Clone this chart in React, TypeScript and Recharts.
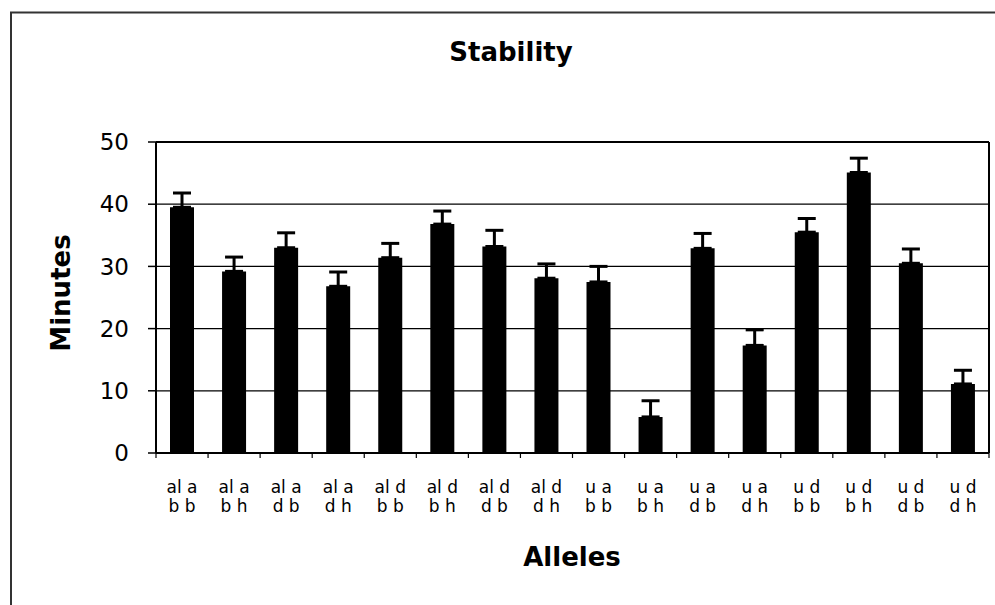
import React from 'react';
import { BarChart, Bar, XAxis, YAxis, CartesianGrid, ErrorBar, ReferenceLine } from 'recharts';

const alleleTop = ['al a', 'al a', 'al a', 'al a', 'al d', 'al d', 'al d', 'al d', 'u a', 'u a', 'u a', 'u a', 'u d', 'u d', 'u d', 'u d'];
const alleleBottom = ['b b', 'b h', 'd b', 'd h', 'b b', 'b h', 'd b', 'd h', 'b b', 'b h', 'd b', 'd h', 'b b', 'b h', 'd b', 'd h'];
const minutes = [39.5, 29.2, 33.0, 26.8, 31.4, 36.8, 33.2, 28.1, 27.5, 5.8, 32.9, 17.3, 35.5, 45.1, 30.5, 11.1];
const errors = [2.3, 2.3, 2.4, 2.3, 2.3, 2.1, 2.6, 2.3, 2.5, 2.6, 2.4, 2.5, 2.2, 2.3, 2.3, 2.2];
const yTicks = [0, 10, 20, 30, 40, 50];

const data = alleleTop.map((t, i) => ({
  name: `${t}|${alleleBottom[i]}`,
  minutes: minutes[i],
  err: [0, errors[i]],
}));

const lastName = data[data.length - 1].name;
const yMax = yTicks[yTicks.length - 1];

const AlleleTick = (props: any) => {
  const { x, y, payload, index, visibleTicksCount, width } = props;
  const half = payload && typeof payload.offset === 'number' && payload.offset > 0
    ? payload.offset
    : width / visibleTicksCount / 2;
  const [l1, l2] = String(payload.value).split('|');
  const isLast = index === visibleTicksCount - 1;
  return (
    <g>
      <line x1={x - half} x2={x - half} y1={y} y2={y + 5} stroke="#000" strokeWidth={1.2} />
      {isLast && <line x1={x + half} x2={x + half} y1={y} y2={y + 5} stroke="#000" strokeWidth={1.2} />}
      <text x={x} y={y + 40} textAnchor="middle" fontFamily="DejaVu Sans" fontSize={17} fill="#000">{l1}</text>
      <text x={x} y={y + 59} textAnchor="middle" fontFamily="DejaVu Sans" fontSize={17} fill="#000">{l2}</text>
    </g>
  );
};

export default function App() {
  return (
    <div style={{ position: 'absolute', left: 0, top: 0, width: 995, height: 605, background: '#fff' }}>
      <BarChart
        width={995}
        height={605}
        data={data}
        margin={{ top: 142, right: 6, bottom: 0, left: 0 }}
        barSize={24}
      >
        <CartesianGrid vertical={false} stroke="#000" strokeWidth={1.2} />
        <XAxis
          dataKey="name"
          height={152}
          interval={0}
          tick={<AlleleTick />}
          tickLine={false}
          tickSize={0}
          tickMargin={0}
          axisLine={{ stroke: '#000', strokeWidth: 2 }}
        />
        <YAxis
          width={156}
          domain={[0, 50]}
          ticks={yTicks}
          interval={0}
          tickSize={8}
          tickMargin={19}
          tickLine={{ stroke: '#000', strokeWidth: 1.5 }}
          axisLine={{ stroke: '#000', strokeWidth: 2 }}
          tick={{ fill: '#000', fontSize: 23, fontFamily: 'DejaVu Sans' }}
        />
        <ReferenceLine y={yMax} stroke="#000" strokeWidth={2} />
        <ReferenceLine x={lastName} position="end" stroke="#000" strokeWidth={2} />
        <Bar dataKey="minutes" fill="#000" isAnimationActive={false}>
          <ErrorBar dataKey="err" direction="y" width={9} strokeWidth={3} stroke="#000" isAnimationActive={false} />
        </Bar>
      </BarChart>
      <svg width={995} height={605} style={{ position: 'absolute', left: 0, top: 0, pointerEvents: 'none' }}>
        <line x1={11} x2={11} y1={12} y2={605} stroke="#333" strokeWidth={2} />
        <line x1={10} x2={995} y1={12.5} y2={12.5} stroke="#333" strokeWidth={2} />
        <text x={511} y={61} textAnchor="middle" fontFamily="DejaVu Sans" fontWeight="bold" fontSize={26} fill="#000">Stability</text>
        <text x={70} y={293} transform="rotate(-90 70 293)" textAnchor="middle" fontFamily="DejaVu Sans" fontWeight="bold" fontSize={26} fill="#000">Minutes</text>
        <text x={572} y={566} textAnchor="middle" fontFamily="DejaVu Sans" fontWeight="bold" fontSize={26} fill="#000">Alleles</text>
      </svg>
    </div>
  );
}
